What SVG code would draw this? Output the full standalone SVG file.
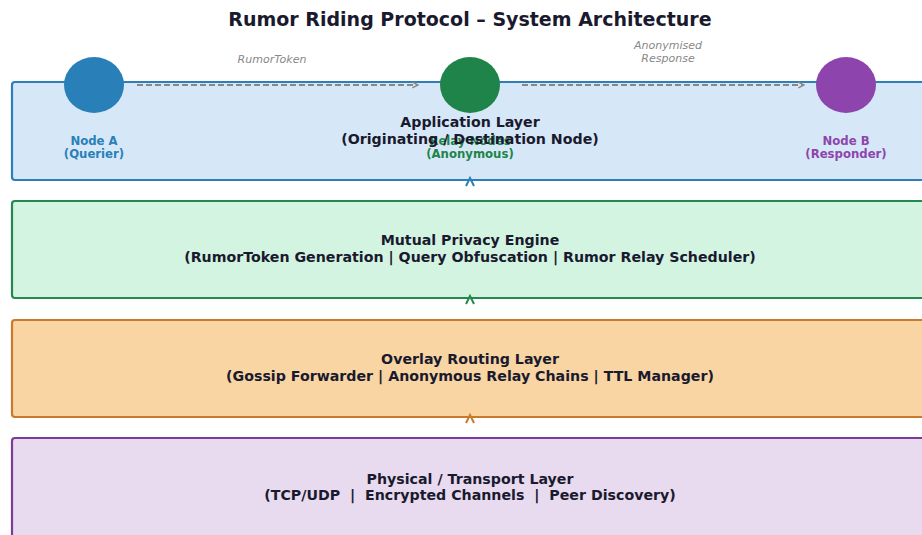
<svg xmlns="http://www.w3.org/2000/svg" width="922" height="535" viewBox="0 0 922 535">
  <defs>
    <marker id="open-arrow" viewBox="0 0 10 10" refX="9" refY="5" markerWidth="8" markerHeight="8" orient="auto" markerUnits="userSpaceOnUse">
      <path d="M2,1.5 L9,5 L2,8.5" fill="none" stroke="#888888" stroke-width="1.8"/>
    </marker>
    <style>
      text { font-family: "DejaVu Sans", "Liberation Sans", sans-serif; white-space: pre; }
      .title { font-size: 19px; font-weight: bold; fill: #1a1a2e; text-anchor: middle; }
      .layer-text { font-size: 14.2px; font-weight: bold; fill: #1a1a2e; text-anchor: middle; }
      .node-text { font-size: 11.7px; font-weight: bold; text-anchor: middle; }
      .edge-text { font-size: 11px; font-style: italic; fill: #888888; text-anchor: middle; }
      .layer { stroke-width: 2.2; }
      .flow { fill: none; stroke: #888888; stroke-width: 2; stroke-dasharray: 6 3; }
      .caret { fill: none; stroke-width: 2; }
    </style>
  </defs>

  <rect width="922" height="535" fill="#ffffff"/>

  <text class="title" x="470" y="26">Rumor Riding Protocol – System Architecture</text>

  <!-- stacked protocol layers -->
  <g id="layer-application">
    <rect class="layer" x="12" y="82" width="930" height="98" rx="3" fill="#d6e8f7" stroke="#2e7fb8"/>
  </g>
  <g id="layer-privacy">
    <rect class="layer" x="12" y="201" width="930" height="97" rx="3" fill="#d4f4e2" stroke="#23894e"/>
    <text class="layer-text" x="470" y="245">Mutual Privacy Engine</text>
    <text class="layer-text" x="470" y="262">(RumorToken Generation | Query Obfuscation | Rumor Relay Scheduler)</text>
  </g>
  <g id="layer-overlay">
    <rect class="layer" x="12" y="320" width="930" height="97" rx="3" fill="#f8d5a3" stroke="#c97a2e"/>
    <text class="layer-text" x="470" y="364">Overlay Routing Layer</text>
    <text class="layer-text" x="470" y="381">(Gossip Forwarder | Anonymous Relay Chains | TTL Manager)</text>
  </g>
  <g id="layer-transport">
    <rect class="layer" x="12" y="438" width="930" height="120" rx="3" fill="#e8daef" stroke="#7d3c98"/>
    <text class="layer-text" x="470" y="484">Physical / Transport Layer</text>
    <text class="layer-text" x="470" y="500" xml:space="preserve">(TCP/UDP  |  Encrypted Channels  |  Peer Discovery)</text>
  </g>

  <!-- connectors: message flow and layer-to-layer arrows -->
  <g id="connectors">
    <line class="flow" x1="137" y1="85" x2="418" y2="85" marker-end="url(#open-arrow)"/>
    <line class="flow" x1="522" y1="85" x2="804" y2="85" marker-end="url(#open-arrow)"/>
    <polyline class="caret" points="466,186 470,178 474,186" stroke="#2e7fb8"/>
    <polyline class="caret" points="466,304 470,296 474,304" stroke="#23894e"/>
    <polyline class="caret" points="466,423 470,415 474,423" stroke="#c97a2e"/>
    <text class="edge-text" x="272" y="63">RumorToken</text>
    <text class="edge-text" x="668" y="49">Anonymised</text>
    <text class="edge-text" x="668" y="62">Response</text>
  </g>

  <g id="node-a">
    <ellipse cx="94" cy="85" rx="30" ry="28" fill="#2980b9"/>
    <text class="node-text" x="94" y="145" fill="#2980b9">Node A</text>
    <text class="node-text" x="94" y="158" fill="#2980b9">(Querier)</text>
  </g>
  <g id="node-relay">
    <ellipse cx="470" cy="85" rx="30" ry="28" fill="#1e8449"/>
    <text class="node-text" x="470" y="145" fill="#1e8449">Relay Nodes</text>
    <text class="node-text" x="470" y="158" fill="#1e8449">(Anonymous)</text>
  </g>
  <g id="node-b">
    <ellipse cx="846" cy="85" rx="30" ry="28" fill="#8e44ad"/>
    <text class="node-text" x="846" y="145" fill="#8e44ad">Node B</text>
    <text class="node-text" x="846" y="158" fill="#8e44ad">(Responder)</text>
  </g>

  <!-- application layer caption sits above the node labels -->
  <g id="layer-application-label">
    <text class="layer-text" x="470" y="127">Application Layer</text>
    <text class="layer-text" x="470" y="144">(Originating / Destination Node)</text>
  </g>
</svg>
